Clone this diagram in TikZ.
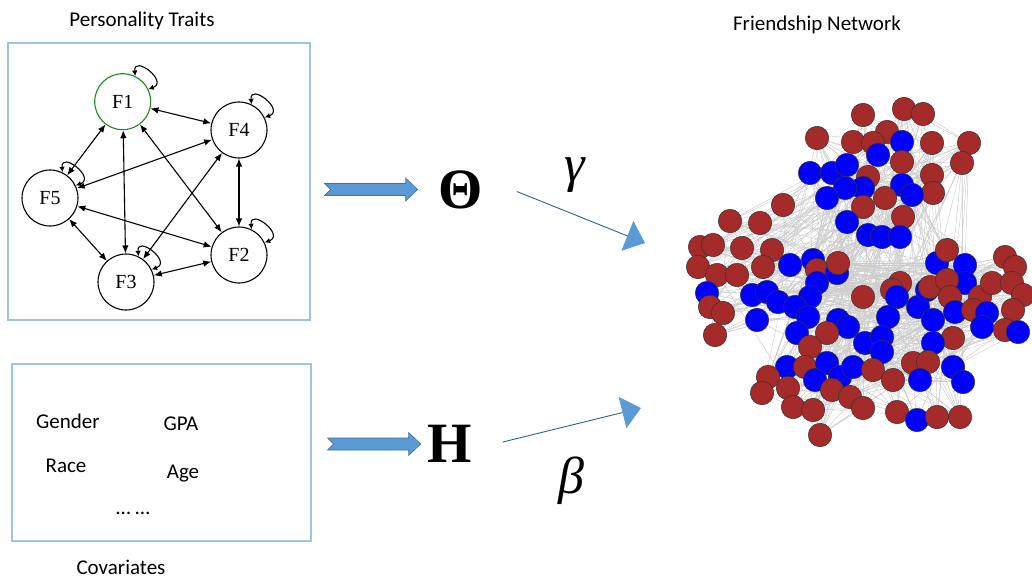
\documentclass[tikz,border=0pt]{standalone}
\usepackage{fontspec}
\setmainfont{Liberation Serif}
\newfontfamily\labelfont{Carlito}
\usetikzlibrary{arrows.meta}

\definecolor{panelblue}{HTML}{9DC3E6}
\definecolor{arrowfill}{HTML}{5B9BD5}
\definecolor{arrowedge}{HTML}{41719C}
\definecolor{linkblue}{HTML}{2F5F98}
\definecolor{netr}{HTML}{A52A2A}
\definecolor{netb}{HTML}{0000FF}
\definecolor{fgreen}{HTML}{1E8A1E}

\tikzset{
  panel/.style={draw=panelblue, line width=1.3pt, inner sep=0pt},
  caption/.style={font=\labelfont\fontsize{21}{25}\selectfont, anchor=base, inner sep=0pt},
  covtext/.style={font=\labelfont\fontsize{21}{25}\selectfont, anchor=base, inner sep=0pt},
  trait/.style={circle, draw, line width=1.1pt, minimum size=56pt, inner sep=0pt,
                font=\fontsize{20}{24}\selectfont},
  link/.style={line width=1.1pt, {Latex[length=8pt,width=6.5pt]}-{Latex[length=8pt,width=6.5pt]}},
  selfloop/.style={line width=1.1pt, {Latex[length=5.5pt,width=5.5pt]}-{Latex[length=5.5pt,width=5.5pt]}},
  greek/.style={inner sep=0pt, font=\fontsize{52}{60}\selectfont},
  param/.style={inner sep=0pt, font=\fontsize{57}{64}\selectfont\bfseries},
  thinarrow/.style={draw=linkblue, line width=0.9pt,
                    -{Triangle[length=19pt,width=32pt,fill=arrowfill,color=arrowfill]}},
  blockarrow/.pic={
    \draw[fill=arrowfill, draw=arrowedge, line width=0.6pt, line join=miter]
      (0,-6) -- (81,-6) -- (81,-11.5) -- (93,0) -- (81,11.5) -- (81,6) -- (0,6) -- (6,0) -- cycle;
  },
  netedge/.style={draw=gray!40, line width=0.45pt},
  netnode/.style={circle, draw=black!80, line width=0.5pt, minimum size=23.5pt, inner sep=0pt},
}

\def\netlist{863/115/r,904/109/r,923/114/r,817/138/r,853/142/r,887/132/r,873/143/r,902/142/b,
932/143/r,969/143/r,962/163/r,878/155/b,902/162/r,932/175/r,933/193/r,810/173/b,832/173/b,
847/165/b,868/177/r,863/188/b,845/188/b,827/198/b,902/185/b,912/195/b,863/207/r,885/198/r,
903/217/r,847/222/b,868/235/b,882/237/b,900/237/b,783/205/r,730/221/r,760/223/r,700/247/r,
713/245/r,742/248/r,772/250/r,698/267/r,717/275/r,737/275/r,763/267/r,707/293/b,710/307/r,
723/313/r,715/335/r,752/295/b,767/292/b,778/302/b,757/320/b,790/265/b,813/260/b,817/270/r,
837/273/b,838/263/r,817/283/b,810/297/b,795/307/b,808/317/b,797/333/b,863/297/r,900/283/r,
892/290/r,897/297/b,888/317/b,918/307/b,933/320/b,927/290/b,930/287/r,937/263/b,947/250/r,
965/265/b,965/283/b,947/280/r,950/297/r,955/312/b,980/297/r,992/283/r,973/310/r,987/313/b,
982/327/b,1005/257/r,1015/267/r,1012/283/r,1023/295/r,1013/310/r,1005/330/r,1018/332/b,
953/338/r,933/343/b,838/320/b,848/327/b,827/333/r,810/347/r,865/343/b,882/337/b,882/352/b,
787/367/b,805/367/r,827/363/b,840/377/b,853/367/b,815/380/b,873/370/r,893/380/r,913/363/r,
928/362/r,920/380/b,953/367/b,963/382/b,768/377/r,762/393/r,788/388/r,793/407/r,813/410/r,
832/390/r,850/397/r,863/408/r,897/412/r,917/420/b,937/417/r,960/417/r,820/435/r}

\begin{document}
\begin{tikzpicture}[x=1pt, y=-1pt]
\useasboundingbox (0,0) rectangle (1032,580);

% ---------- personality traits panel ----------
\node[panel, minimum width=302pt, minimum height=277pt] (traits) at (159,181.5) {};
\node[caption] (traitscap) at (142,27) {Personality Traits};

\node[trait, draw=fgreen] (F1) at (122.7,101.7) {F1};
\node[trait] (F4) at (239,130) {F4};
\node[trait] (F5) at (50,198) {F5};
\node[trait] (F2) at (239,255) {F2};
\node[trait] (F3) at (126,282) {F3};

\foreach \a/\b in {F1/F4,F1/F5,F1/F3,F1/F2,F4/F5,F4/F3,F4/F2,F5/F2,F5/F3,F3/F2}
  \draw[link] (\a) -- (\b);
% small self-loops at the upper right of every trait (y axis points down here)
\foreach \n in {F1,F4,F5,F2,F3}
  \draw[selfloop] (\n.64) .. controls +(-95:22) and +(-20:22) .. (\n.26);

% ---------- covariates panel ----------
\node[panel, minimum width=299pt, minimum height=177pt] (covs) at (161.5,452.5) {};
\node[caption] (covcap) at (121,574) {Covariates};
\node[covtext] (gender) at (68,428) {Gender};
\node[covtext] (gpa) at (181,430) {GPA};
\node[covtext] (race) at (66,472) {Race};
\node[covtext] (age) at (183,478) {Age};
\node[covtext] (dots) at (133,514) {… …};

% ---------- parameters ----------
\node[param] (theta) at (460.5,189.5) {Θ};
\node[param] (eta) at (449.5,444) {H};
\pic at ([xshift=14pt]traits.east |- theta) {blockarrow};
\pic at ([xshift=16pt]covs.east |- eta) {blockarrow};

\coordinate (gtip) at (645,243);
\coordinate (btip) at (641,408);
\draw[thinarrow] ([shift={(34,2)}]theta.east) -- (gtip);
\draw[thinarrow] ([shift={(31,-2)}]eta.east) -- (btip);
\node[greek] (gamma) at (575,175) {\itshape γ};
\node[greek] (beta) at (571,481) {\itshape β};

% ---------- friendship network ----------
\node[caption] (netcap) at (817,31) {Friendship Network};
\foreach \x/\y/\c [count=\i] in \netlist
  \coordinate (c\i) at (\x,\y);
\pgfmathsetseed{2024}
\foreach \i in {1,...,123}{
  \foreach \k in {1,...,5}{
    \pgfmathtruncatemacro\j{mod(\i+random(0,30),123)+1}
    \draw[netedge] (c\i) -- (c\j);
  }
  \pgfmathtruncatemacro\j{random(1,123)}
  \draw[netedge] (c\i) -- (c\j);
}
\foreach \x/\y/\c [count=\i] in \netlist
  \node[netnode, fill=net\c] (n\i) at (c\i) {};
\end{tikzpicture}
\end{document}
